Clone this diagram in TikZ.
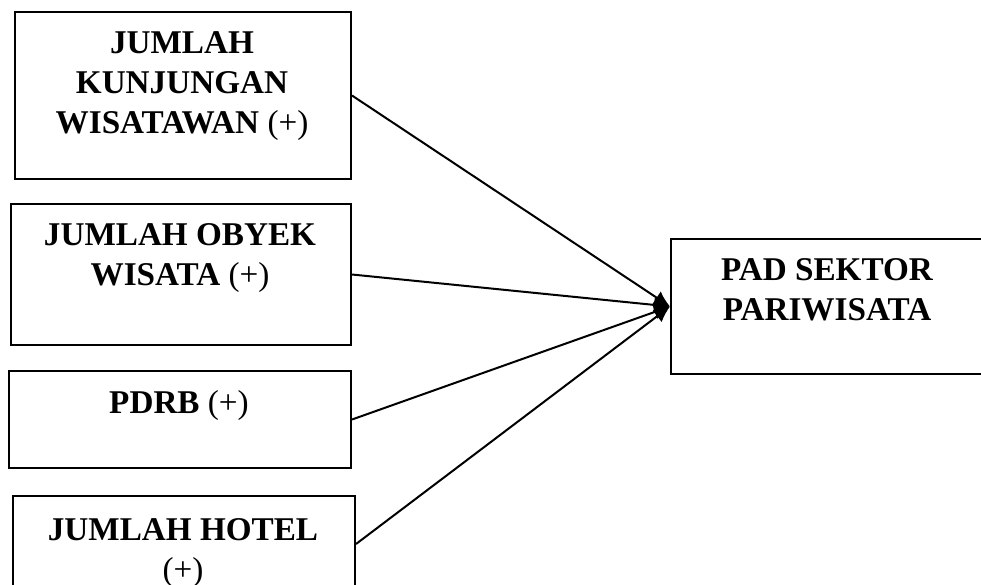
\documentclass[tikz,border=0pt]{standalone}
\usepackage{fontspec}
\setmainfont{Liberation Serif}
\usetikzlibrary{arrows.meta}
\newcommand{\plusmark}{{\mdseries(+)}}
\begin{document}
\begin{tikzpicture}[x=1pt,y=-1pt,
  box/.style={draw, line width=2pt, inner sep=0pt, anchor=north west},
  lbl/.style={font=\fontsize{33.2}{40}\selectfont\bfseries, align=center, inner sep=0pt, anchor=base},
  conn/.style={line width=2pt, -{Latex[length=16pt,width=15pt]}}]
\useasboundingbox (0,0) rectangle (981,584);
\clip (0,0) rectangle (981,584);
\node[box, minimum width=336pt, minimum height=167pt] (b1) at (14,11) {};
\node[box, minimum width=340pt, minimum height=141pt] (b2) at (10,203) {};
\node[box, minimum width=342pt, minimum height=97pt] (b3) at (8,370) {};
\node[box, minimum width=342pt, minimum height=96pt] (b4) at (12,495) {};
\node[box, minimum width=316pt, minimum height=135pt] (out) at (670,238) {};
\node[lbl] (t1) at (182,133) {JUMLAH\\KUNJUNGAN\\WISATAWAN \plusmark};
\node[lbl] (t2) at (180,285) {JUMLAH OBYEK\\WISATA \plusmark};
\node[lbl] (t3) at (179,413) {PDRB \plusmark};
\node[lbl] (t4) at (183,580) {JUMLAH HOTEL\\\plusmark};
\node[lbl] (t5) at (827,320) {PAD SEKTOR\\PARIWISATA};
\draw[conn] (b1.east) -- (out.west);
\draw[conn] (b2.east) -- (out.west);
\draw[conn] (b3.east) -- (out.west);
\draw[conn] (b4.east) -- (out.west);
\end{tikzpicture}
\end{document}
